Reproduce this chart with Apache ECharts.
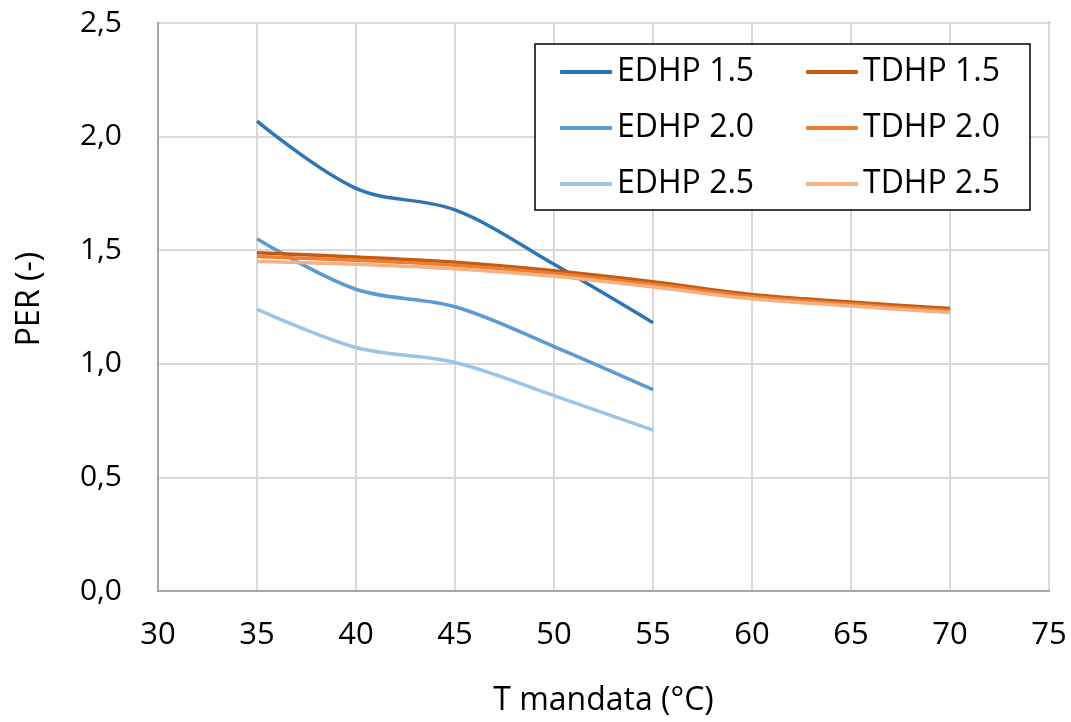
<!DOCTYPE html>
<html>
<head>
<meta charset="utf-8">
<script src="https://cdn.jsdelivr.net/npm/echarts@6/dist/echarts.min.js"></script>
<style>
  html, body { margin: 0; padding: 0; background: #fff; }
  #chart { width: 1071px; height: 722px; }
</style>
</head>
<body>
<div id="chart"></div>
<script>
// temperature (°C)
const tempEdhp = [35, 40, 45, 50, 55]
const tempTdhp = [35, 40, 45, 50, 55, 60, 65, 70]

// PER values
const edhp15 = [2.068, 1.772, 1.677, 1.438, 1.181]
const edhp20 = [1.550, 1.328, 1.251, 1.076, 0.886]
const edhp25 = [1.241, 1.072, 1.006, 0.860, 0.708]
const tdhp15 = [1.489, 1.470, 1.447, 1.410, 1.361, 1.305, 1.272, 1.243]
const tdhp20 = [1.472, 1.456, 1.434, 1.398, 1.350, 1.296, 1.263, 1.235]
const tdhp25 = [1.450, 1.438, 1.418, 1.385, 1.338, 1.286, 1.254, 1.226]

const yTicks = [0, 0.5, 1, 1.5, 2, 2.5]

const font = 'Open Sans'

let chart = echarts.init(document.getElementById('chart'))

let zip = (xs, ys) => xs.map((x, i) => [x, ys[i]])
let mkLine = (name, xs, ys, color) => ({
  name,
  type: 'line',
  data: zip(xs, ys),
  smooth: 0.35,
  symbol: 'none',
  lineStyle: { color, width: 3.5 },
  itemStyle: { color }
})

chart.setOption({
  animation: false,
  grid: {
    left: 158,
    right: 22,
    top: 23,
    bottom: 128,
    show: true,
    borderColor: '#000',
    borderWidth: 1.5
  },
  legend: {
    orient: 'vertical',
    left: 535,
    top: 44,
    height: 160,
    padding: [12, 2, 10, 25],
    itemGap: 24,
    itemWidth: 52,
    itemHeight: 4,
    icon: 'roundRect',
    backgroundColor: '#fff',
    borderColor: '#000',
    borderWidth: 1.5,
    borderRadius: 0,
    textStyle: {
      fontFamily: font,
      fontSize: 32,
      lineHeight: 30,
      color: '#000',
      width: 165
    }
  },
  xAxis: {
    type: 'value',
    min: 30,
    max: 75,
    interval: 5,
    name: 'T mandata (°C)',
    nameLocation: 'middle',
    nameGap: 94,
    nameTextStyle: { fontFamily: font, fontSize: 32, color: '#000' },
    axisLine: { show: true, lineStyle: { color: '#a6a6a6', width: 2 } },
    axisTick: { show: false },
    axisLabel: { fontFamily: font, fontSize: 31, color: '#000', margin: 29 },
    splitLine: { show: true, lineStyle: { color: '#d9d9d9', width: 2 } }
  },
  yAxis: {
    type: 'value',
    min: yTicks[0],
    max: yTicks[yTicks.length - 1],
    interval: 0.5,
    name: 'PER (-)',
    nameLocation: 'middle',
    nameGap: 112,
    nameTextStyle: { fontFamily: font, fontSize: 32, color: '#000', padding: [0, 0, 0, 16] },
    axisLine: { show: true, lineStyle: { color: '#a6a6a6', width: 2 } },
    axisTick: { show: false },
    axisLabel: {
      fontFamily: font,
      fontSize: 30,
      color: '#000',
      margin: 36,
      formatter: v => v.toFixed(1).replace('.', ',')
    },
    splitLine: { show: true, lineStyle: { color: '#d9d9d9', width: 2 } }
  },
  series: [
    mkLine('EDHP 1.5', tempEdhp, edhp15, '#2e75b6'),
    mkLine('EDHP 2.0', tempEdhp, edhp20, '#5b9bd5'),
    mkLine('EDHP 2.5', tempEdhp, edhp25, '#9dc3e6'),
    mkLine('TDHP 1.5', tempTdhp, tdhp15, '#c55a11'),
    mkLine('TDHP 2.0', tempTdhp, tdhp20, '#ed7d31'),
    mkLine('TDHP 2.5', tempTdhp, tdhp25, '#f4b183')
  ]
})
</script>
</body>
</html>
